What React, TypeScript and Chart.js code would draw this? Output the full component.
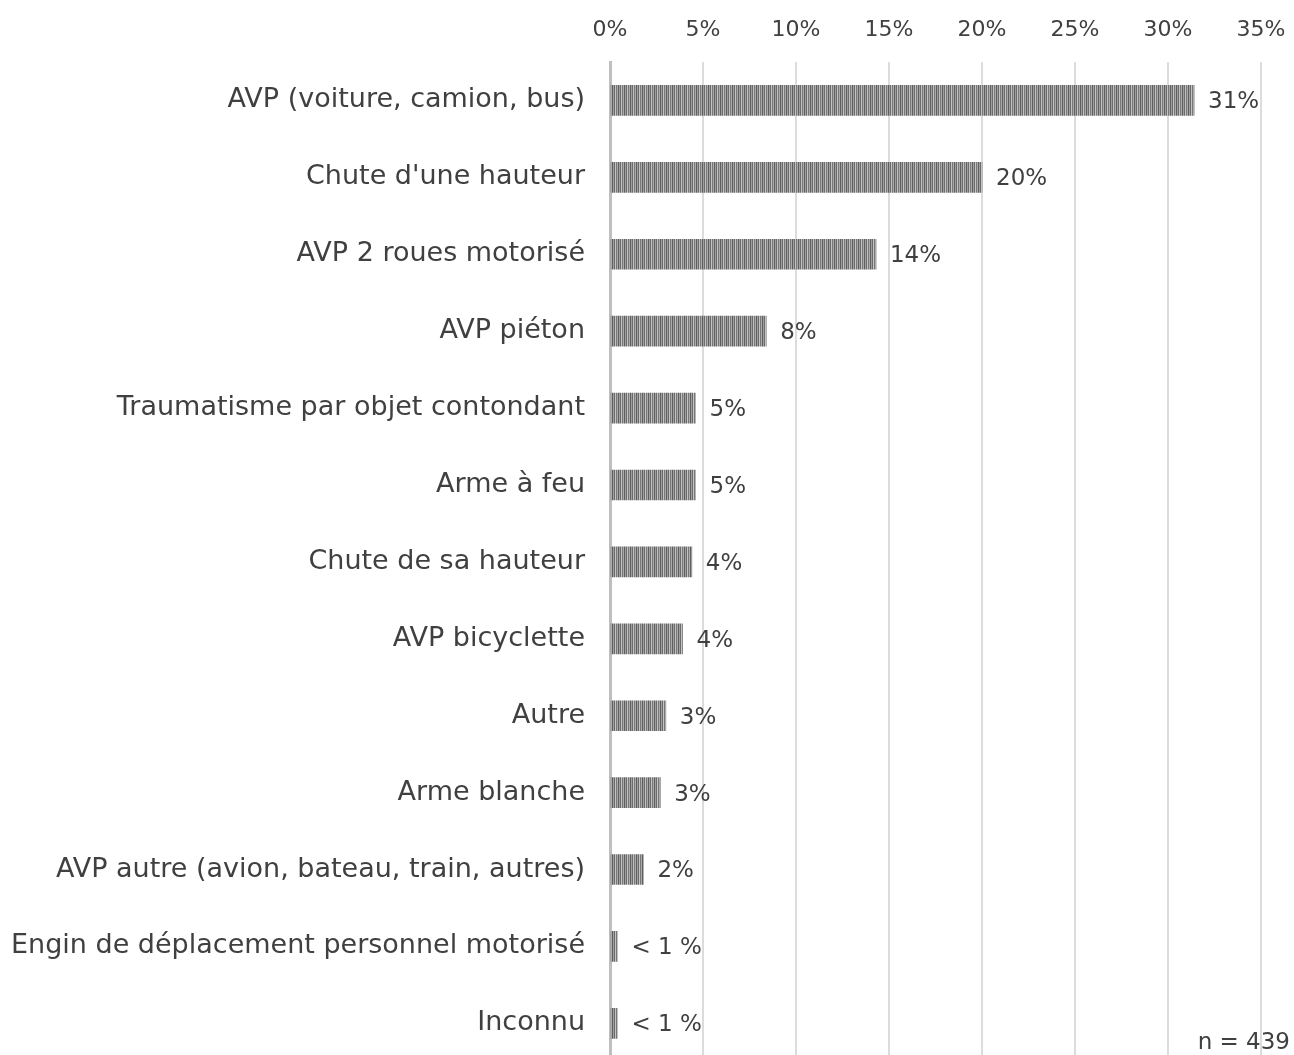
import React, { useEffect, useRef } from "react";
import { Chart, registerables } from "chart.js";

Chart.register(...registerables);

const categories = [
  "AVP (voiture, camion, bus)",
  "Chute d'une hauteur",
  "AVP 2 roues motorisé",
  "AVP piéton",
  "Traumatisme par objet contondant",
  "Arme à feu",
  "Chute de sa hauteur",
  "AVP bicyclette",
  "Autre",
  "Arme blanche",
  "AVP autre (avion, bateau, train, autres)",
  "Engin de déplacement personnel motorisé",
  "Inconnu",
];
const values = [31.4, 20.0, 14.3, 8.4, 4.6, 4.6, 4.4, 3.9, 3.0, 2.7, 1.8, 0.4, 0.4];
const valueLabels = ["31%", "20%", "14%", "8%", "5%", "5%", "4%", "4%", "3%", "3%", "2%", "< 1 %", "< 1 %"];
const xMin = 0;
const xMax = 35;
const xStep = 5;
const footnote = "n = 439";

const FONT = "'DejaVu Sans', sans-serif";
const TEXT = "#404040";
const CANVAS_H = 1103;

function makePattern(): CanvasPattern | string {
  const cols = ["#5e5e5e", "#a0a0a0", "#6a6a6a", "#c4c4c4", "#777777", "#acacac"];
  const c = document.createElement("canvas");
  c.width = cols.length;
  c.height = 4;
  const g = c.getContext("2d");
  if (!g) return "#858585";
  cols.forEach((col, i) => {
    g.fillStyle = col;
    g.fillRect(i, 0, 1, 4);
  });
  const p = g.createPattern(c, "repeat");
  return p || "#858585";
}

const labelPlugin = {
  id: "valueLabels",
  afterDatasetsDraw(chart: any) {
    const ctx = chart.ctx;
    const meta = chart.getDatasetMeta(0);
    ctx.save();
    ctx.font = `23px ${FONT}`;
    ctx.fillStyle = TEXT;
    ctx.textAlign = "left";
    ctx.textBaseline = "middle";
    meta.data.forEach((bar: any, i: number) => {
      ctx.fillText(valueLabels[i], bar.x + 14, bar.y + 2);
    });
    ctx.textAlign = "right";
    ctx.textBaseline = "alphabetic";
    ctx.fillText(footnote, 1290, 1049);
    ctx.restore();
  },
};

export default function App() {
  const ref = useRef<HTMLCanvasElement | null>(null);
  useEffect(() => {
    if (!ref.current) return;
    const chart = new Chart(ref.current, {
      type: "bar",
      data: {
        labels: categories,
        datasets: [
          {
            data: values,
            backgroundColor: makePattern() as any,
            borderWidth: 0,
            barThickness: 30,
          },
        ],
      },
      options: {
        indexAxis: "y",
        responsive: false,
        animation: false,
        devicePixelRatio: 1,
        layout: { padding: { left: 0, right: 33, top: 0, bottom: 0 } },
        plugins: { legend: { display: false }, tooltip: { enabled: false } },
        scales: {
          x: {
            position: "top",
            min: xMin,
            max: xMax,
            ticks: {
              stepSize: xStep,
              padding: 19,
              color: TEXT,
              font: { family: FONT, size: 22 },
              callback: (v: any) => `${v}%`,
            },
            grid: {
              color: "#dcdcdc",
              lineWidth: 2,
              drawTicks: false,
            },
            border: { display: false },
            afterFit: (s: any) => {
              s.height = 62;
              s.paddingRight = 0;
              s.paddingLeft = 0;
            },
          },
          y: {
            ticks: {
              padding: 25,
              color: TEXT,
              font: { family: FONT, size: 27 },
            },
            grid: { display: false, drawTicks: false },
            border: { display: true, color: "#bfbfbf", width: 3 },
            afterFit: (s: any) => {
              s.width = 610;
            },
          },
        },
      },
      plugins: [labelPlugin],
    });
    return () => chart.destroy();
  }, []);
  return (
    <div style={{ position: "fixed", left: 0, top: 0, width: 1294, height: 1055, overflow: "hidden", background: "#fff" }}>
      <canvas ref={ref} width={1294} height={CANVAS_H} style={{ width: 1294, height: CANVAS_H, display: "block" }} />
    </div>
  );
}
